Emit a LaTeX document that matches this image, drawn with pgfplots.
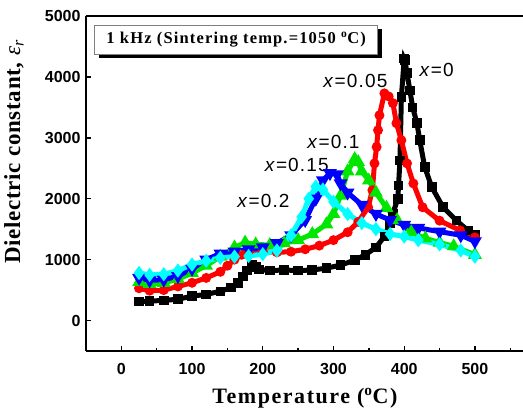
\documentclass[border=0pt]{standalone}
\usepackage{fontspec}
\setmainfont{Liberation Serif}
\setsansfont{Liberation Sans}
\usepackage{pgfplots}
\pgfplotsset{compat=1.18}
\usetikzlibrary{shadows}

\definecolor{cgreen}{RGB}{0,230,0}
\definecolor{ccyan}{RGB}{0,255,255}
\definecolor{cblue}{RGB}{0,0,255}
\definecolor{cred}{RGB}{255,0,0}

\begin{document}
\begin{tikzpicture}
\begin{axis}[
    name=ax,
    width=437pt, height=335pt, scale only axis,
    xmin=-50, xmax=568, ymin=-500, ymax=5000,
    axis x line=box, axis y line=left,
    axis line style={-, line width=1.6pt},
    xtick={0,100,...,500}, minor xtick={-50,50,150,...,550},
    ytick={0,1000,...,5000},
    xtick pos=bottom, tick align=inside,
    major tick length=5pt, minor tick length=3pt,
    every tick/.style={black, line width=1.4pt},
    /pgf/number format/assume math mode=true,
    /pgf/number format/1000 sep={},
    tick label style={font=\fontsize{16}{16}\sffamily\bfseries},
    xticklabel style={yshift=-9pt},
    yticklabel style={xshift=-2pt},
    xlabel={\fontsize{22}{22}\bfseries\addfontfeatures{LetterSpace=7}Temperature (\textsuperscript{o}C)},
    ylabel={\fontsize{23}{23}\bfseries\addfontfeatures{LetterSpace=3}Dielectric constant, \mdseries\itshape ε\textsubscript{r}},
    xlabel style={at={(axis description cs:0.501,-0.14)}, anchor=center},
    ylabel style={at={(axis description cs:-0.165,0.594)}, anchor=center},
    clip=false,
]
\addplot[black, line width=5pt, mark=square*, mark size=2.3pt] coordinates {
(25,310) (40,320) (60,330) (80,350) (100,400) (120,430) (140,480) (155,540)
(165,620) (172,720) (178,820) (185,920) (190,880) (195,840) (210,820) (230,830)
(250,820) (270,830) (290,860) (310,910) (330,990) (345,1080) (360,1200) (372,1380)
(380,1600) (384,1760) (391,2000) (392,2220) (394,2630) (396,3670) (400,4300)
(401,4276) (404,4060) (408,3780) (412,3500) (418,3240) (422,2960) (429,2520)
(439,2190) (455,1860) (474,1640) (490,1480) (500,1400)
};
\addplot[cred, line width=5pt, mark=*, mark size=2.3pt] coordinates {
(25,530) (40,490) (60,500) (80,560) (100,620) (120,700) (140,800) (150,900)
(160,1000) (170,1080) (180,1120) (200,1130) (220,1120) (240,1130) (260,1170)
(280,1230) (300,1320) (320,1450) (335,1620) (349,1860) (355,2140) (358,2580)
(361,2850) (363,3125) (365,3370) (372,3730) (378,3680) (384,3570) (389,3240)
(396,2960) (404,2580) (413,2250) (426,1860) (450,1640) (479,1480) (500,1365)
};
\addplot[cgreen, line width=5pt, mark=triangle*, mark size=3pt] coordinates {
(25,630) (40,600) (60,620) (80,680) (100,780) (120,900) (140,1050) (160,1200)
(175,1280) (190,1250) (210,1240) (230,1270) (250,1320) (270,1420) (290,1580)
(300,1750) (310,2050) (320,2450) (330,2650) (335,2600) (340,2450) (350,2300)
(360,2100) (375,1850) (390,1650) (410,1450) (430,1350) (450,1280) (470,1220)
(500,1080)
};
\addplot[cblue, line width=5pt, mark=triangle*, mark options={rotate=180}, mark size=3pt] coordinates {
(25,700) (40,660) (60,670) (80,730) (100,850) (120,1000) (140,1100) (160,1130)
(180,1170) (200,1200) (220,1270) (240,1400) (260,1650) (275,2000) (285,2300)
(295,2420) (305,2400) (310,2250) (320,2100) (340,1900) (360,1750) (380,1650)
(400,1570) (420,1520) (450,1460) (480,1400) (500,1300)
};
\addplot[ccyan, line width=5pt, mark=diamond*, mark size=3pt] coordinates {
(25,780) (40,750) (60,760) (80,820) (100,920) (120,980) (140,1030) (160,1050)
(180,1060) (200,1090) (220,1150) (240,1400) (255,1700) (265,2000) (275,2200)
(285,2150) (300,1950) (320,1750) (340,1600) (360,1500) (380,1420) (400,1380)
(420,1320) (450,1250) (480,1150) (500,1050)
};
\node[draw=gray, fill=white, anchor=north west, minimum width=283pt, minimum height=29pt,
      drop shadow={shadow xshift=4pt, shadow yshift=-4pt, fill=black, opacity=1},
      font=\fontsize{16.5}{16.5}\bfseries\addfontfeatures{LetterSpace=7}]
  at (axis cs:-38,4852) {1 kHz (Sintering temp.=1050 \textsuperscript{o}C)};
\begin{scope}[every node/.style={font=\fontsize{19}{19}\sffamily\addfontfeatures{LetterSpace=6}}]
\node at (axis cs:446,4112) {\textit{x}=0};
\node at (axis cs:331,3930) {\textit{x}=0.05};
\node at (axis cs:300,2928) {\textit{x}=0.1};
\node at (axis cs:248,2550) {\textit{x}=0.15};
\node at (axis cs:201,1957) {\textit{x}=0.2};
\end{scope}
\end{axis}
\pgfresetboundingbox
\path[use as bounding box] ([shift={(-86pt,-64pt)}]ax.south west) rectangle ([shift={(0pt,16pt)}]ax.north east);
\end{tikzpicture}
\end{document}
